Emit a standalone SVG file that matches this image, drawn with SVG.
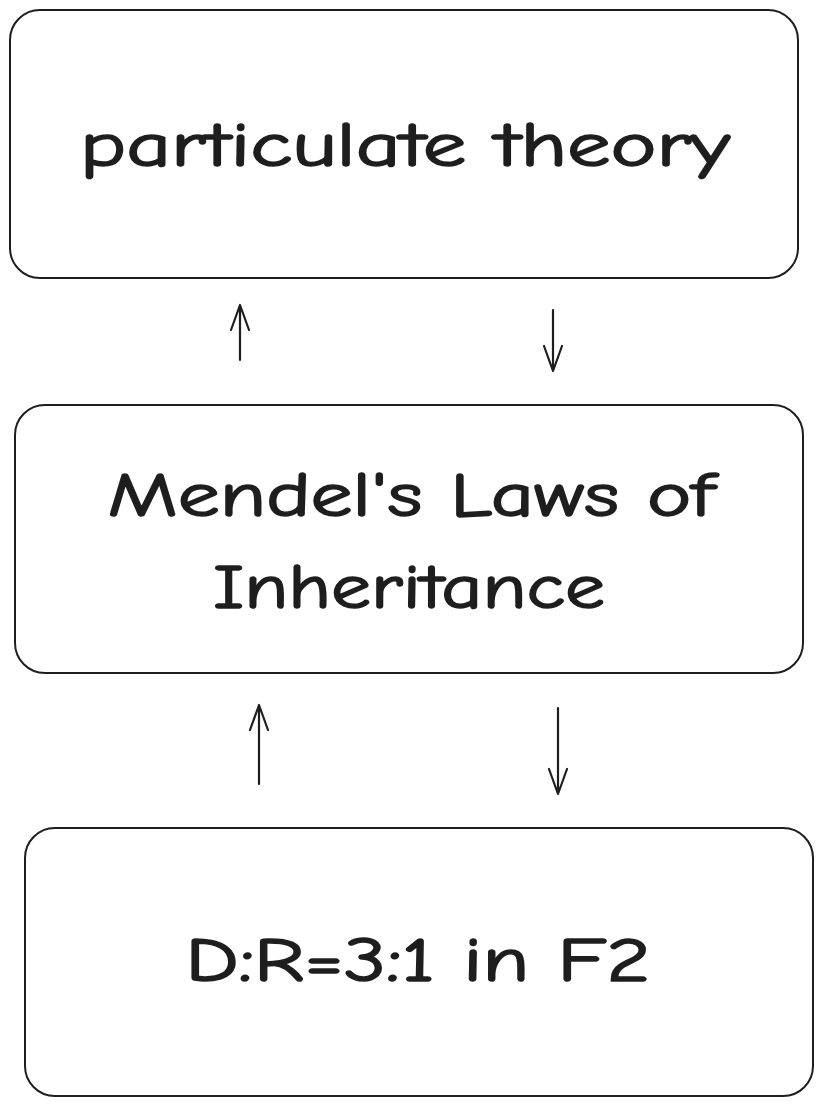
<svg xmlns="http://www.w3.org/2000/svg" width="823" height="1106" viewBox="0 0 823 1106">
<style>
.box{fill:#fff;stroke:#1e1e1e;stroke-width:2}
.lbl{font-family:"Comic Neue","Liberation Sans",sans-serif;font-size:62px;fill:#1e1e1e;stroke:#1e1e1e;stroke-width:1.6;text-anchor:middle}
.arr{fill:none;stroke:#1e1e1e;stroke-width:2.2;stroke-linecap:round;stroke-linejoin:round}
</style>
<rect width="823" height="1106" fill="#fff"/>
<g id="node-particulate">
<rect class="box" x="10" y="10" width="788" height="268" rx="30"/>
<text class="lbl" x="405" y="166" textLength="650" lengthAdjust="spacingAndGlyphs">particulate theory</text>
</g>
<g id="node-mendel">
<rect class="box" x="15" y="405" width="788" height="268" rx="30"/>
<text class="lbl" x="411" y="516" textLength="607" lengthAdjust="spacingAndGlyphs">Mendel's Laws of</text>
<text class="lbl" x="409" y="608" textLength="392" lengthAdjust="spacingAndGlyphs">Inheritance</text>
</g>
<g id="node-ratio">
<rect class="box" x="25" y="828" width="788" height="268" rx="30"/>
<text class="lbl" x="418" y="981" textLength="465" lengthAdjust="spacingAndGlyphs">D:R=3:1 in F2</text>
</g>
<g id="connectors">
<path class="arr" d="M240 360 L240 305 M231 330 L240 305 L249 330"/>
<path class="arr" d="M553 310 L553 371 M544 346 L553 371 L562 346"/>
<path class="arr" d="M259 784 L259 705 M250 730 L259 705 L268 730"/>
<path class="arr" d="M558 708 L558 794 M549 769 L558 794 L567 769"/>
</g>
</svg>
